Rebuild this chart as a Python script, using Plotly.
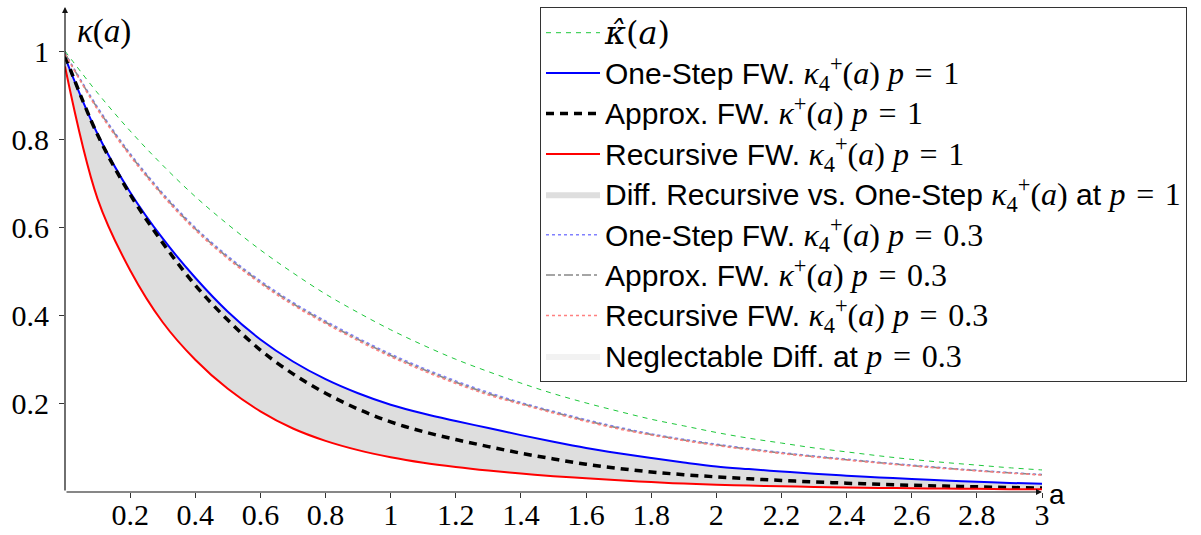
import plotly.graph_objects as go

# Sample points along a (step 0.1)
a_vals = [0.0, 0.1, 0.2, 0.3, 0.4, 0.5, 0.6, 0.7, 0.8, 0.9, 1.0, 1.1, 1.2, 1.3, 1.4, 1.5,
          1.6, 1.7, 1.8, 1.9, 2.0, 2.1, 2.2, 2.3, 2.4, 2.5, 2.6, 2.7, 2.8, 2.9, 3.0]

# Reference curve
kappa_hat = [1.000, 0.905, 0.819, 0.741, 0.670, 0.607, 0.549, 0.497, 0.449, 0.407, 0.368,
             0.333, 0.301, 0.273, 0.247, 0.223, 0.202, 0.183, 0.165, 0.150, 0.135,
             0.122, 0.111, 0.100, 0.091, 0.082, 0.074, 0.067, 0.061, 0.055, 0.050]

# p = 1 curves
onestep_p1 = [0.986, 0.812, 0.680, 0.575, 0.486, 0.409, 0.346, 0.296, 0.256, 0.224, 0.198,
              0.178, 0.161, 0.145, 0.129, 0.114, 0.100, 0.088, 0.077, 0.067, 0.058,
              0.052, 0.0465, 0.0415, 0.037, 0.033, 0.0295, 0.0263, 0.0233, 0.0206, 0.0185]
approx_p1 = [0.990, 0.810, 0.675, 0.565, 0.469, 0.390, 0.322, 0.268, 0.224, 0.188, 0.159,
             0.137, 0.119, 0.103, 0.088, 0.075, 0.063, 0.0535, 0.0455, 0.0393, 0.0343,
             0.030, 0.0262, 0.0229, 0.020, 0.0175, 0.0153, 0.0134, 0.0117, 0.0102, 0.009]
recursive_p1 = [0.965, 0.665, 0.503, 0.385, 0.300, 0.234, 0.183, 0.144, 0.116, 0.095, 0.079,
                0.0665, 0.0567, 0.0486, 0.0418, 0.036, 0.031, 0.0267, 0.0225, 0.019, 0.0165,
                0.0145, 0.013, 0.0115, 0.0103, 0.0093, 0.0085, 0.0078, 0.0071, 0.0065, 0.006]

# p = 0.3 curves
onestep_p03 = [0.996, 0.873, 0.768, 0.678, 0.600, 0.535, 0.479, 0.430, 0.388, 0.349, 0.313,
               0.281, 0.252, 0.226, 0.203, 0.183, 0.164, 0.147, 0.132, 0.1195, 0.1085,
               0.0985, 0.0896, 0.0816, 0.0744, 0.0674, 0.0608, 0.0548, 0.0492, 0.0441, 0.0396]
approx_p03 = [0.995, 0.870, 0.765, 0.675, 0.597, 0.532, 0.476, 0.427, 0.385, 0.346, 0.310,
              0.278, 0.249, 0.223, 0.201, 0.181, 0.162, 0.145, 0.1305, 0.118, 0.107,
              0.0972, 0.0884, 0.0805, 0.0734, 0.0665, 0.060, 0.054, 0.0485, 0.0435, 0.039]
recursive_p03 = [0.994, 0.867, 0.762, 0.672, 0.594, 0.529, 0.473, 0.424, 0.382, 0.343, 0.307,
                 0.275, 0.246, 0.220, 0.199, 0.179, 0.160, 0.143, 0.129, 0.1165, 0.1055,
                 0.0959, 0.0872, 0.0794, 0.0724, 0.0656, 0.0592, 0.0532, 0.0478, 0.0429, 0.0384]

x_tick_vals = [0.2, 0.4, 0.6, 0.8, 1.0, 1.2, 1.4, 1.6, 1.8, 2.0, 2.2, 2.4, 2.6, 2.8, 3.0]
x_tick_text = ["0.2", "0.4", "0.6", "0.8", "1", "1.2", "1.4", "1.6", "1.8", "2",
               "2.2", "2.4", "2.6", "2.8", "3"]
y_tick_vals = [0.2, 0.4, 0.6, 0.8, 1.0]
y_tick_text = ["0.2", "0.4", "0.6", "0.8", "1"]

SERIF = "Liberation Serif, Times New Roman, serif"
SANS = "Liberation Sans, Arial, sans-serif"
SP = "\u2004"  # spacing around relation signs


def m(s, family="Liberation Serif"):
    return f'<span style="font-family:{family};font-size:32px">{s}</span>'


def t(s):
    return f'<span style="font-size:30px">{s}</span>'


k4 = "<i>κ</i><sub>4</sub><sup>+</sup>(<i>a</i>)"
kp = "<i>κ</i><sup>+</sup>(<i>a</i>)"
p1 = f"<i>p</i>{SP}={SP}1"
p03 = f"<i>p</i>{SP}={SP}0.3"

names = {
    "hat": m("<i>κ̂</i>(<i>a</i>)", "DejaVu Serif"),
    "os1": t("One-Step FW. ") + m(k4 + " " + p1),
    "ap1": t("Approx. FW. ") + m(kp + " " + p1),
    "rc1": t("Recursive FW. ") + m(k4 + " " + p1),
    "diff1": t("Diff. Recursive vs. One-Step ") + m(k4) + t(" at ") + m(p1),
    "os3": t("One-Step FW. ") + m(k4 + " " + p03),
    "ap3": t("Approx. FW. ") + m(kp + " " + p03),
    "rc3": t("Recursive FW. ") + m(k4 + " " + p03),
    "diff3": t("Neglectable Diff. at ") + m(p03),
}

fig = go.Figure()

# Shaded band between recursive and one-step at p = 1
fig.add_trace(go.Scatter(x=a_vals, y=recursive_p1, mode="lines", line=dict(width=0, shape="spline"),
                         showlegend=False, hoverinfo="skip"))
fig.add_trace(go.Scatter(x=a_vals, y=onestep_p1, mode="lines", line=dict(width=0, shape="spline"),
                         fill="tonexty", fillcolor="#dedede", name=names["diff1"],
                         legendrank=5, legendgroup="g5", hoverinfo="skip"))
# Shaded band at p = 0.3
fig.add_trace(go.Scatter(x=a_vals, y=recursive_p03, mode="lines", line=dict(width=0, shape="spline"),
                         showlegend=False, hoverinfo="skip"))
fig.add_trace(go.Scatter(x=a_vals, y=onestep_p03, mode="lines", line=dict(width=0, shape="spline"),
                         fill="tonexty", fillcolor="#f2f2f2", name=names["diff3"],
                         legendrank=9, legendgroup="g9", hoverinfo="skip"))

lines = [
    (kappa_hat, "hat", dict(color="#1ec83c", width=1, dash="5px,5px"), 1),
    (onestep_p1, "os1", dict(color="#0000ff", width=2), 2),
    (approx_p1, "ap1", dict(color="#000000", width=3.5, dash="8px,6px"), 3),
    (recursive_p1, "rc1", dict(color="#ff0000", width=2), 4),
    (onestep_p03, "os3", dict(color="#8080ff", width=1.5, dash="dot"), 6),
    (approx_p03, "ap3", dict(color="#888888", width=1.5, dash="dashdot"), 7),
    (recursive_p03, "rc3", dict(color="#ff8080", width=1.5, dash="dot"), 8),
]
for ys, key, ln, rank in lines:
    ln = dict(ln, shape="spline")
    fig.add_trace(go.Scatter(x=a_vals, y=ys, mode="lines", line=ln, name=names[key],
                             legendrank=rank, legendgroup=f"g{rank}"))

tick_font = dict(family=SERIF, size=30, color="black")
axis_common = dict(showgrid=False, zeroline=False, showline=False, automargin=False,
                   ticklen=5, tickcolor="#333")
fig.update_layout(
    width=1201, height=535,
    margin=dict(l=65, r=159, t=7, b=43, autoexpand=False),
    paper_bgcolor="white", plot_bgcolor="white",
    showlegend=True,
    legend=dict(
        x=(540 - 65) / 977, y=1.0, xanchor="left", yanchor="top",
        bgcolor="white", bordercolor="#333333", borderwidth=1,
        font=dict(family=SANS, size=28, color="black"),
        traceorder="grouped", tracegroupgap=1, itemwidth=54,
    ),
    xaxis=dict(axis_common, range=[0, 3], tickvals=x_tick_vals, ticktext=x_tick_text,
               ticks="outside", tickfont=tick_font, ticklabelstandoff=-9),
    yaxis=dict(axis_common, range=[0, 1.1], tickvals=y_tick_vals, ticktext=y_tick_text,
               ticks="outside", tickfont=tick_font, ticklabelstandoff=4),
    xaxis2=dict(axis_common, range=[0, 3], overlaying="x", tickvals=x_tick_vals,
                ticks="inside", showticklabels=False, side="bottom"),
    yaxis2=dict(axis_common, range=[0, 1.1], overlaying="y", tickvals=y_tick_vals,
                ticks="inside", showticklabels=False, side="left"),
)

# Axis lines with arrow tips
fig.add_annotation(x=3, y=0, ax=0, ay=0, xref="x", yref="y", axref="x", ayref="y",
                   showarrow=True, arrowhead=2, arrowsize=1, arrowwidth=1.2, arrowcolor="#111",
                   text="")
fig.add_annotation(x=0, y=1.1, ax=0, ay=0, xref="x", yref="y", axref="x", ayref="y",
                   showarrow=True, arrowhead=2, arrowsize=1, arrowwidth=1.2, arrowcolor="#111",
                   text="")
# Axis labels
fig.add_annotation(x=0, y=1.1, xref="x", yref="y", xanchor="left", yanchor="top",
                   xshift=10, yshift=-4, showarrow=False,
                   text="<i>κ</i>(<i>a</i>)", font=dict(family=SERIF, size=33, color="black"))
fig.add_annotation(x=3, y=0, xref="x", yref="y", xanchor="left", yanchor="middle",
                   xshift=5, yshift=-2, showarrow=False,
                   text="a", font=dict(family=SANS, size=28, color="black"))

fig.write_html("out.html")
